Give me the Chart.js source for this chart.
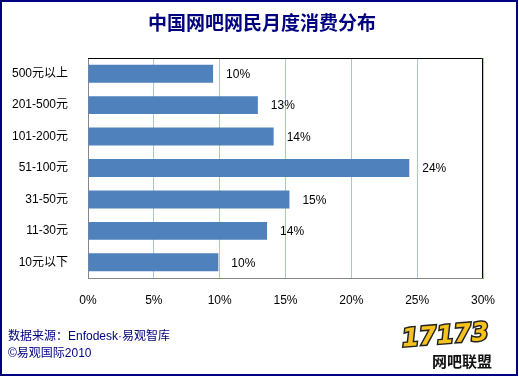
<!DOCTYPE html>
<html>
<head>
<meta charset="utf-8">
<script src="https://cdn.jsdelivr.net/npm/chart.js@4"></script>
<style>
	body { margin: 0; background: #fff; }
	#box { width: 519px; height: 377px; position: relative; }
</style>
</head>
<body>
<div id="box"><canvas id="myChart" width="519" height="377"></canvas></div>
<script>
// datos
const categorias = ["500元以上", "201-500元", "101-200元", "51-100元", "31-50元", "11-30元", "10元以下"];
const porcentajes = [9.5, 12.9, 14.1, 24.4, 15.3, 13.6, 9.9];
const etiquetas = ["10%", "13%", "14%", "24%", "15%", "14%", "10%"];
const titulo = "中国网吧网民月度消费分布";
const fuente = "数据来源：Enfodesk·易观智库";
const copyright = "©易观国际2010";

const fuenteBase = "'Liberation Sans', Arial, 'Noto Sans CJK SC', sans-serif";

//plugin que dibuja titulo, marco, borde del area, etiquetas y pie
const extras = {
	id: "extras",
	afterDatasetsDraw(chart) {
		const ctx = chart.ctx;
		const area = chart.chartArea;
		ctx.save();
		// borde superior y derecho del area
		ctx.strokeStyle = "#000000";
		ctx.lineWidth = 1;
		ctx.beginPath();
		ctx.moveTo(area.left, area.top + 0.5);
		ctx.lineTo(area.right - 0.5, area.top + 0.5);
		ctx.lineTo(area.right - 0.5, area.bottom);
		ctx.stroke();

		// etiquetas de valor
		ctx.font = "12px " + fuenteBase;
		ctx.fillStyle = "#000000";
		ctx.textBaseline = "middle";
		ctx.textAlign = "left";
		chart.getDatasetMeta(0).data.forEach((bar, i) => {
			ctx.fillText(etiquetas[i], bar.x + 13, bar.y + 1);
		});
		ctx.restore();
	},
	afterDraw(chart) {
		const ctx = chart.ctx;
		ctx.save();
		// marco exterior
		ctx.strokeStyle = "#000080";
		ctx.lineWidth = 2;
		ctx.strokeRect(1, 1, 516, 374);

		// titulo
		ctx.fillStyle = "#000080";
		ctx.font = "bold 19px 'Noto Sans CJK SC', sans-serif";
		ctx.textAlign = "center";
		ctx.textBaseline = "middle";
		ctx.fillText(titulo, 262, 23);

		// pie
		ctx.font = "12px " + fuenteBase;
		ctx.textAlign = "left";
		ctx.fillText(fuente, 8, 337);
		ctx.fillText(copyright, 8, 354);

		// logo
		ctx.save();
		ctx.translate(402, 340);
		ctx.rotate(-0.08);
		ctx.font = "italic bold 25px 'DejaVu Sans', sans-serif";
		ctx.lineWidth = 3;
		ctx.strokeStyle = "#222222";
		ctx.fillStyle = "#F7C21B";
		ctx.strokeText("17173", 0, 0);
		ctx.fillText("17173", 0, 0);
		ctx.restore();
		ctx.fillStyle = "#111111";
		ctx.font = "bold 15px 'Noto Sans CJK SC', sans-serif";
		ctx.fillText("网吧联盟", 432, 361);
		ctx.restore();
	},
};

const data = {
	labels: categorias,
	datasets: [
		{
			data: porcentajes,
			backgroundColor: "#4F81BD",
			borderWidth: 0,
			categoryPercentage: 1,
			barPercentage: 0.57,
		},
	],
};

const config = {
	type: "bar",
	data,
	options: {
		indexAxis: "y",
		responsive: false,
		animation: false,
		layout: { padding: { left: 0, right: 36, top: 58, bottom: 0 } },
		plugins: {
			legend: { display: false },
			tooltip: { enabled: false },
		},
		scales: {
			x: {
				min: 0,
				max: 30,
				afterFit: (s) => {
					s.height = 99;
				},
				grid: {
					color: "#A9C2E8",
					drawTicks: false,
				},
				border: { color: "#868686" },
				ticks: {
					stepSize: 5,
					padding: 15,
					color: "#000000",
					font: { family: fuenteBase, size: 12 },
					callback: (v) => v + "%",
				},
			},
			y: {
				afterFit: (s) => {
					s.width = 88;
				},
				grid: { display: false },
				border: { color: "#868686" },
				ticks: {
					padding: 12,
					color: "#000000",
					font: { family: fuenteBase, size: 12 },
				},
			},
		},
	},
	plugins: [extras],
};

new Chart(document.getElementById("myChart"), config);
</script>
</body>
</html>
